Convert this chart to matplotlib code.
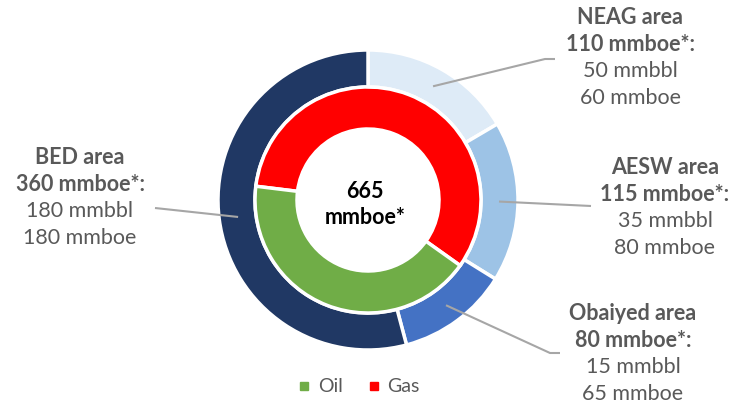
import matplotlib.pyplot as plt
import numpy as np
from matplotlib.lines import Line2D

plt.rcParams['font.family'] = ['Lato', 'DejaVu Sans']

# data
areas = ["NEAG", "AESW", "Obaiyed", "BED"]
area_totals = [110, 115, 80, 360]
area_oil = [50, 35, 15, 180]
area_gas = [60, 80, 65, 180]
area_colors = ["#DEEBF7", "#9DC3E6", "#4472C4", "#203864"]

fluids = ["Gas", "Oil"]
fluid_totals = [sum(area_gas), sum(area_oil)]
fluid_colors = ["#FF0000", "#70AD47"]

grand_total = sum(area_totals)

W, H = 733, 405
fig = plt.figure(figsize=(W / 100, H / 100), dpi=100)
ax = fig.add_axes([0, 0, 1, 1])

cx, cy = 368, H - 200
r_out = 150
r_mid = 113
r_in = 71

wedges, _ = ax.pie(area_totals, colors=area_colors, startangle=90, counterclock=False,
                   radius=r_out, center=(cx, cy), frame=True,
                   wedgeprops=dict(width=r_out - r_mid, edgecolor='white', linewidth=2.5))
ax.pie(fluid_totals, colors=fluid_colors, startangle=173, counterclock=False,
       radius=r_mid, center=(cx, cy), frame=True,
       wedgeprops=dict(width=r_mid - r_in, edgecolor='white', linewidth=2.5))
ax.set_xlim(0, W)
ax.set_ylim(0, H)
ax.set_aspect('equal')
ax.axis('off')

ax.text(cx - 3, H - 192, f"{grand_total}", ha='center', va='center', fontsize=15.5,
        fontweight='bold', color='black')
ax.text(cx - 3, H - 218, "mmboe*", ha='center', va='center', fontsize=15.5,
        fontweight='bold', color='black')

# label layout: (text center x, first line y, leader end points)
label_pos = {
    "NEAG": (630, 18, [(545, 59), (555, 59)]),
    "AESW": (665, 168, [(591, 206)]),
    "Obaiyed": (633, 314, [(550, 353), (560, 353)]),
    "BED": (80, 158, [(155, 208)]),
}

grey = "#595959"
for w, name, tot, oil, gas in zip(wedges, areas, area_totals, area_oil, area_gas):
    tx, ty, pts = label_pos[name]
    lines = [(f"{name} area", 'bold'), (f"{tot} mmboe*:", 'bold'),
             (f"{oil} mmbbl", 'normal'), (f"{gas} mmboe", 'normal')]
    for i, (s, wt) in enumerate(lines):
        ax.text(tx, H - (ty + i * 26.5), s, ha='center', va='center', fontsize=15.5,
                fontweight=wt, color=grey)
    ang = np.deg2rad((w.theta1 + w.theta2) / 2)
    sx, sy = cx + 131 * np.cos(ang), cy + 131 * np.sin(ang)
    xs = [sx] + [p[0] for p in pts]
    ys = [sy] + [H - p[1] for p in pts]
    ax.plot(xs, ys, color="#A6A6A6", lw=1.5, solid_capstyle='butt')

handles = [Line2D([], [], marker='s', color=c, linestyle='none', markersize=6)
           for c in fluid_colors[::-1]]
leg = ax.legend(handles, fluids[::-1], loc='center', bbox_to_anchor=(358 / W, 18 / H),
                ncol=2, frameon=False, fontsize=14, handletextpad=0.3, columnspacing=1.2,
                handlelength=0.8)
for t in leg.get_texts():
    t.set_color(grey)

fig.savefig("out.png", dpi=100)
